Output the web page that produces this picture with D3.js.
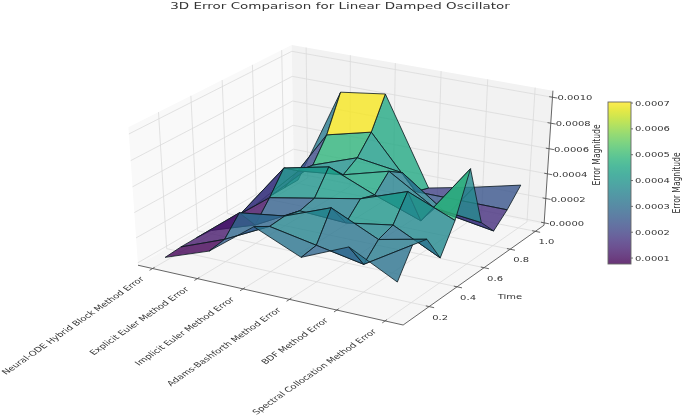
<!DOCTYPE html>
<html><head><meta charset="utf-8">
<script src="https://cdnjs.cloudflare.com/ajax/libs/d3/7.8.5/d3.min.js"></script>
<style>html,body{margin:0;padding:0;background:#fff;overflow:hidden}svg{display:block;filter:blur(0.45px)}text{font-family:"DejaVu Sans",sans-serif;fill:#333}</style>
</head><body><svg id="c" width="685" height="420"></svg>
<script>
const methods=["Neural-ODE Hybrid Block Method Error","Explicit Euler Method Error","Implicit Euler Method Error","Adams-Bashforth Method Error","BDF Method Error","Spectral Collocation Method Error"];
const times=[0.1,0.2,0.3,0.4,0.5,0.6,0.7,0.8,0.9,1.0];
const neuralOde=[.00001,.00002,.00002,.00001,.00001,.00001,.00001,.00001,.00001,.00001];
const explicitEuler=[.00014,.00016,.00030,.00013,.00028,.00045,.00036,.00034,.00052,.00080];
const implicitEuler=[.00041,.00034,.00035,.00032,.00035,.00053,.00040,.00047,.00061,.00085];
const adamsBashforth=[.00025,.00027,.00049,.00030,.00042,.00038,.00050,.00042,.00020,.00016];
const bdf=[.00041,.00020,.00032,.00036,.00055,.00025,.00028,.00016,.00020,.00024];
const spectral=[.00022,.00043,.00040,.00018,.00040,.00073,.00024,.00010,.00020,.00033];
const series=[neuralOde,explicitEuler,implicitEuler,adamsBashforth,bdf,spectral];
const timeTicks=[0.2,0.4,0.6,0.8,1.0];
const zTicks=[0,0.0002,0.0004,0.0006,0.0008,0.001];
const cbTicks=[0.0001,0.0002,0.0003,0.0004,0.0005,0.0006,0.0007];

const SX=1.45;
const xS=d3.scaleLinear().domain([-0.33,5.37]).range([0,1]);
const tS=d3.scaleLinear().domain([0.02,1.07]).range([0,1]);
const zS=d3.scaleLinear().domain([-0.00002,0.00105]).range([0,1]);
const color=d3.scaleSequential(d3.interpolateViridis).domain([0.000077,0.000704]);

// matplotlib style perspective, elev 30, azim -60
const k=1.8294640721620434*25/24/Math.hypot(4,4,3);
const B=[4*k,4*k,3*k],el=30*Math.PI/180,az=-60*Math.PI/180,dist=10;
const W=[Math.cos(el)*Math.cos(az),Math.cos(el)*Math.sin(az),Math.sin(el)];
const norm=a=>{const n=Math.hypot(...a);return a.map(d=>d/n)};
const cross=(a,b)=>[a[1]*b[2]-a[2]*b[1],a[2]*b[0]-a[0]*b[2],a[0]*b[1]-a[1]*b[0]];
const dot=(a,b)=>a[0]*b[0]+a[1]*b[1]+a[2]*b[2];
const U=norm(cross([0,0,1],W)),V=cross(W,U);
function raw(u,v,w){
  const p=[(u-.5)*B[0]-dist*W[0],(v-.5)*B[1]-dist*W[1],(w-.5)*B[2]-dist*W[2]];
  const z=-dot(p,W);
  return {x:dot(p,U)/z,y:dot(p,V)/z,d:z};
}
const rL=raw(0,0,0),rR=raw(1,1,0),rF=raw(1,0,0),rT=raw(0,1,1);
const pxX=d3.scaleLinear().domain([rL.x,rR.x]).range([138,544]);
const pxY=d3.scaleLinear().domain([rF.y,rT.y]).range([325,45]);
function box(u,v,w){const r=raw(u,v,w);return [pxX(r.x),pxY(r.y),r.d]}
const proj=(x,t,z)=>box(xS(x),tS(t),zS(z));

const svg=d3.select("#c");
const line=pts=>"M"+pts.map(p=>p[0].toFixed(2)+","+p[1].toFixed(2)).join("L");
const face=pts=>line(pts)+"Z";
// panes
svg.append("path").attr("d",face([box(0,0,0),box(0,1,0),box(0,1,1),box(0,0,1)])).attr("fill","#f9f9f9");
svg.append("path").attr("d",face([box(0,1,0),box(1,1,0),box(1,1,1),box(0,1,1)])).attr("fill","#f2f2f2");
svg.append("path").attr("d",face([box(0,0,0),box(1,0,0),box(1,1,0),box(0,1,0)])).attr("fill","#f6f6f6");
// grid
const grid=svg.append("g").attr("fill","none").attr("stroke","#dadada").attr("stroke-width",0.8);
const gl=(a,b)=>grid.append("path").attr("d",line([a,b]));
methods.forEach((m,i)=>{const u=xS(i);gl(box(u,0,0),box(u,1,0));gl(box(u,1,0),box(u,1,1));});
timeTicks.forEach(t=>{const v=tS(t);gl(box(0,v,0),box(1,v,0));gl(box(0,v,0),box(0,v,1));});
zTicks.forEach(z=>{const w=zS(z);gl(box(0,0,w),box(0,1,w));gl(box(0,1,w),box(1,1,w));});
// axis lines and ticks
const ax=svg.append("g").attr("fill","none").attr("stroke","#555").attr("stroke-width",0.9);
ax.append("path").attr("d",line([box(0,0,0),box(1,0,0),box(1,1,0),box(1,1,1)]));
methods.forEach((m,i)=>{const u=xS(i);ax.append("path").attr("d",line([box(u,0.012,0),box(u,-0.018,0)]));});
timeTicks.forEach(t=>{const v=tS(t);ax.append("path").attr("d",line([box(0.988,v,0),box(1.018,v,0)]));});
zTicks.forEach(z=>{const w=zS(z);ax.append("path").attr("d",line([box(0.988,1,w),box(1.018,1,w)]));});
// surface
const cells=[];
for(let i=0;i<series.length-1;i++)for(let r=0;r<times.length-1;r++){
  const c=[[i,r],[i+1,r],[i+1,r+1],[i,r+1]];
  const pts=c.map(([a,b])=>proj(a,times[b],series[a][b]));
  cells.push({pts,val:d3.mean(c,([a,b])=>series[a][b]),depth:d3.mean(pts,p=>p[2])});
}
cells.sort((a,b)=>d3.descending(a.depth,b.depth));
svg.append("g").selectAll("path").data(cells).join("path")
  .attr("d",d=>face(d.pts)).attr("fill",d=>color(d.val)).attr("fill-opacity",0.8)
  .attr("stroke","#0c1a20").attr("stroke-opacity",0.9).attr("stroke-width",0.9).attr("stroke-linejoin","round");
// text helper
function label(x,y,txt,size,rot,anchor){
  return svg.append("text").attr("transform",`translate(${x},${y}) scale(${SX},1) rotate(${rot||0})`)
    .attr("text-anchor",anchor||"middle").attr("font-size",size).text(txt);
}
label(340,9,"3D Error Comparison for Linear Damped Oscillator",9.3);
methods.forEach((m,i)=>{const p=box(xS(i),0,0);label(p[0]-8,p[1]+11,m,7,-45,"end");});
timeTicks.forEach(t=>{const p=box(1,tS(t),0);label(p[0]+11,p[1]+13,d3.format(".1f")(t),6.9);});
label(510,299,"Time",6.9);
zTicks.forEach(z=>{const p=box(1,1,zS(z));label(p[0]+5,p[1]+3,d3.format(".4f")(z),6.9,0,"start");});
label(600,155,"Error Magnitude",7.6,-90);
// colorbar
const cbY=d3.scaleLinear().domain(color.domain()).range([264,102]);
const defs=svg.append("defs");
const lg=defs.append("linearGradient").attr("id","vir").attr("x1",0).attr("x2",0).attr("y1",1).attr("y2",0);
d3.range(0,1.001,0.05).forEach(o=>lg.append("stop").attr("offset",o).attr("stop-color",d3.interpolateViridis(o)).attr("stop-opacity",0.8));
svg.append("rect").attr("x",608).attr("y",102).attr("width",23).attr("height",162).attr("fill","url(#vir)").attr("stroke","#666").attr("stroke-width",0.9);
cbTicks.forEach(v=>{
  svg.append("line").attr("x1",631).attr("x2",633).attr("y1",cbY(v)).attr("y2",cbY(v)).attr("stroke","#555").attr("stroke-width",0.8);
  label(635,cbY(v)+2.5,d3.format(".4f")(v),6.9,0,"start");
});
label(680,183,"Error Magnitude",7.6,-90);
</script></body></html>
